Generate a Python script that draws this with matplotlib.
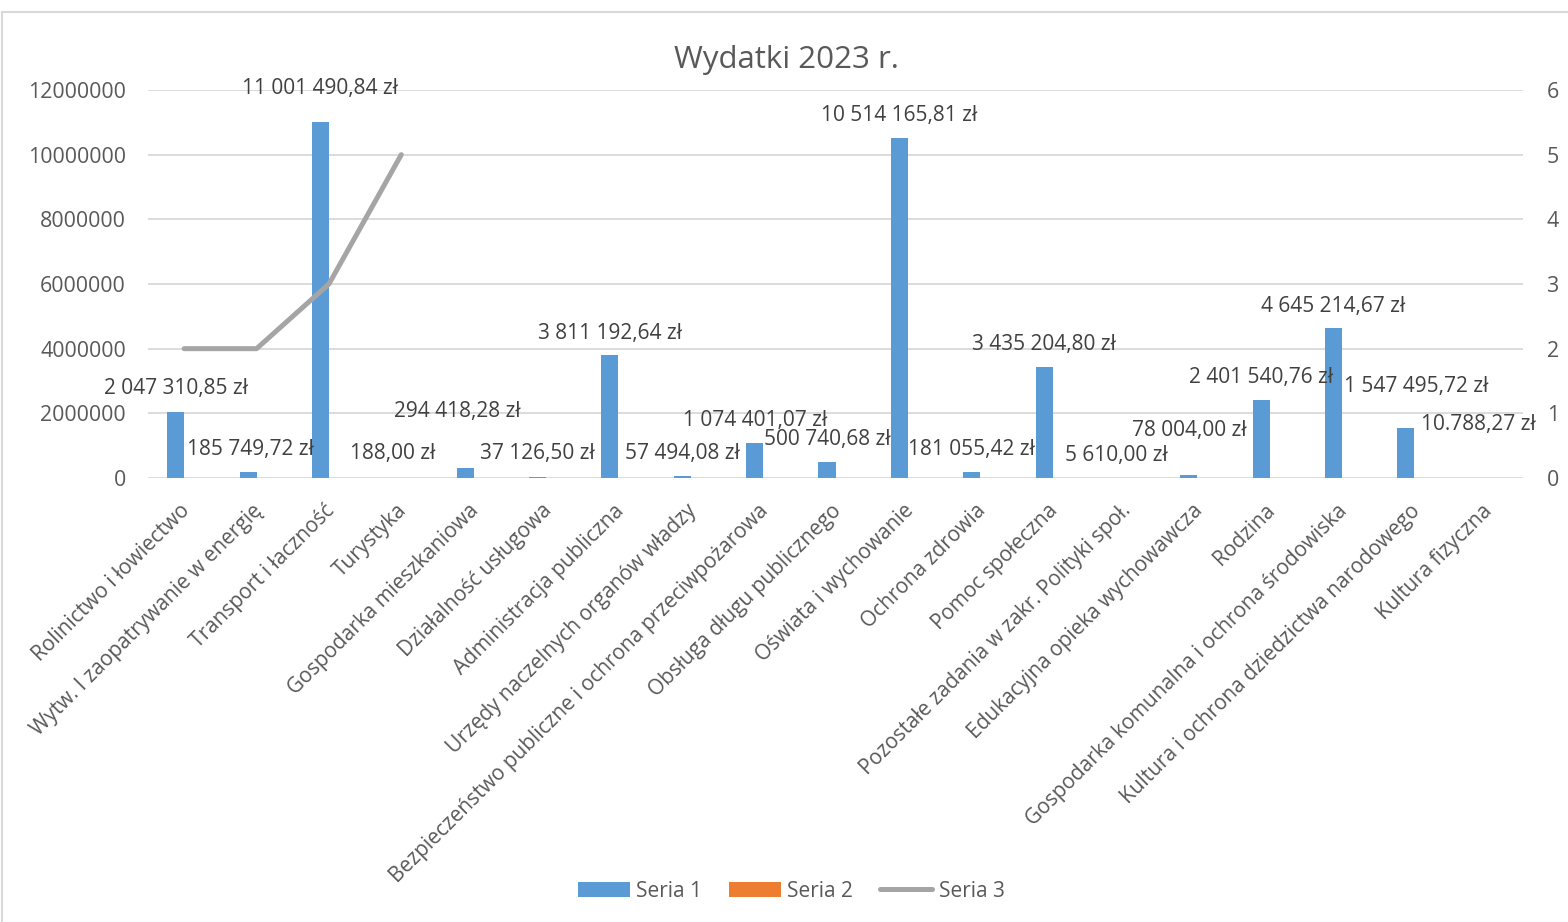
import numpy as np
import matplotlib.pyplot as plt
from matplotlib.lines import Line2D
from matplotlib.transforms import ScaledTranslation

plt.rcParams['font.family'] = ['Open Sans', 'DejaVu Sans']

categories = [
    'Rolinictwo i łowiectwo',
    'Wytw. I zaopatrywanie w energię',
    'Transport i łaczność',
    'Turystyka',
    'Gospodarka mieszkaniowa',
    'Działalność usługowa',
    'Administracja publiczna',
    'Urzędy naczelnych organów władzy',
    'Bezpieczeństwo publiczne i ochrona przeciwpożarowa',
    'Obsługa długu publicznego',
    'Oświata i wychowanie',
    'Ochrona zdrowia',
    'Pomoc społeczna',
    'Pozostałe zadania w zakr. Polityki społ.',
    'Edukacyjna opieka wychowawcza',
    'Rodzina',
    'Gospodarka komunalna i ochrona środowiska',
    'Kultura i ochrona dziedzictwa narodowego',
    'Kultura fizyczna',
]

seria1 = [2047310.85, 185749.72, 11001490.84, 188.00, 294418.28, 37126.50,
          3811192.64, 57494.08, 1074401.07, 500740.68, 10514165.81, 181055.42,
          3435204.80, 5610.00, 78004.00, 2401540.76, 4645214.67, 1547495.72,
          10788.27]
seria2 = [0] * len(categories)
seria3 = [2, 2, 3, 5]

value_labels = [
    '2 047 310,85 zł', '185 749,72 zł', '11 001 490,84 zł', '188,00 zł',
    '294 418,28 zł', '37 126,50 zł', '3 811 192,64 zł', '57 494,08 zł',
    '1 074 401,07 zł', '500 740,68 zł', '10 514 165,81 zł', '181 055,42 zł',
    '3 435 204,80 zł', '5 610,00 zł', '78 004,00 zł', '2 401 540,76 zł',
    '4 645 214,67 zł', '1 547 495,72 zł', '10.788,27 zł',
]

# where Excel put the data labels (y in axis units, x shift in categories)
label_y = [2.845e6, 0.959e6, 12.12e6, 0.835e6, 2.134e6, 0.835e6, 4.546e6,
           0.835e6, 1.856e6, 1.268e6, 11.29e6, 0.959e6, 4.206e6, 0.773e6,
           1.546e6, 3.186e6, 5.381e6, 2.907e6, 1.732e6]
label_dx = [0, 0.03, 0, 0, -0.11, 0, 0, 0, 0, 0, 0, 0, 0, 0, 0, 0, 0, 0.145, 0]

BLUE = '#5B9BD5'
ORANGE = '#ED7D31'
GRAY = '#A5A5A5'
TXT = '#595959'
GRID = '#D9D9D9'
FS = 15

W, H = 1568, 922
fig = plt.figure(figsize=(W / 100, H / 100), dpi=100)
ax = fig.add_axes([148 / W, 1 - 478 / H, (1523 - 148) / W, (478 - 90) / H])

x = np.arange(len(categories))
bw = 0.235
ax.bar(x - bw / 2, seria1, bw, color=BLUE, label='Seria 1', zorder=3)
ax.bar(x + bw / 2, seria2, bw, color=ORANGE, label='Seria 2', zorder=3)

for i, t in enumerate(value_labels):
    ax.annotate(t, (x[i] - bw / 2 + label_dx[i], label_y[i]), xytext=(0, -1.5),
                textcoords='offset points', ha='center', va='center',
                fontsize=FS, color='#404040', zorder=5, annotation_clip=False)

ax.set_xlim(-0.5, len(categories) - 0.5)
ax.set_ylim(0, 12000000)
ax.set_yticks(np.arange(0, 12000001, 2000000))
ax.set_yticklabels([str(v) for v in range(0, 12000001, 2000000)])
ax.grid(axis='y', color=GRID, lw=1.3, zorder=0)
ax.set_axisbelow(True)
ax.set_xticks(x)
ax.set_xticklabels(categories, rotation=45, ha='right', rotation_mode='anchor')
ax.tick_params(axis='x', length=0, pad=16, labelsize=FS, labelcolor=TXT)
ax.tick_params(axis='y', length=0, pad=16, labelsize=15.4, labelcolor=TXT)
shift = ScaledTranslation(-5 / 100, 0, fig.dpi_scale_trans)
for lab in ax.get_xticklabels():
    lab.set_transform(lab.get_transform() + shift)
for s in ax.spines.values():
    s.set_visible(False)

ax2 = ax.twinx()
ax2.plot(np.arange(len(seria3)), seria3, color=GRAY, lw=3.6,
         solid_capstyle='round', solid_joinstyle='round', label='Seria 3', zorder=4)
ax2.set_ylim(0, 6)
ax2.set_yticks(range(0, 7))
ax2.tick_params(axis='y', length=0, pad=17, labelsize=15.4, labelcolor=TXT)
for s in ax2.spines.values():
    s.set_visible(False)

fig.text(786 / W, 1 - 68 / H, 'Wydatki 2023 r.', ha='center', va='baseline',
         fontsize=22.5, color=TXT)

h1, l1 = ax.get_legend_handles_labels()
h2, l2 = ax2.get_legend_handles_labels()
fig.legend(h1 + h2, l1 + l2, loc='center', bbox_to_anchor=(791 / W, 1 - 891 / H),
           ncol=3, frameon=False, fontsize=FS, labelcolor=TXT, handlelength=2.5,
           handletextpad=0.3, columnspacing=1.3, handleheight=0.7)

# chart area frame (top and left edges visible in the crop)
fig.add_artist(Line2D([1.5 / W, 1], [1 - 12 / H, 1 - 12 / H], color=GRID, lw=1.5,
                      transform=fig.transFigure))
fig.add_artist(Line2D([1.5 / W, 1.5 / W], [0, 1 - 12 / H], color=GRID, lw=1.5,
                      transform=fig.transFigure))

fig.savefig('out.png', dpi=100)
